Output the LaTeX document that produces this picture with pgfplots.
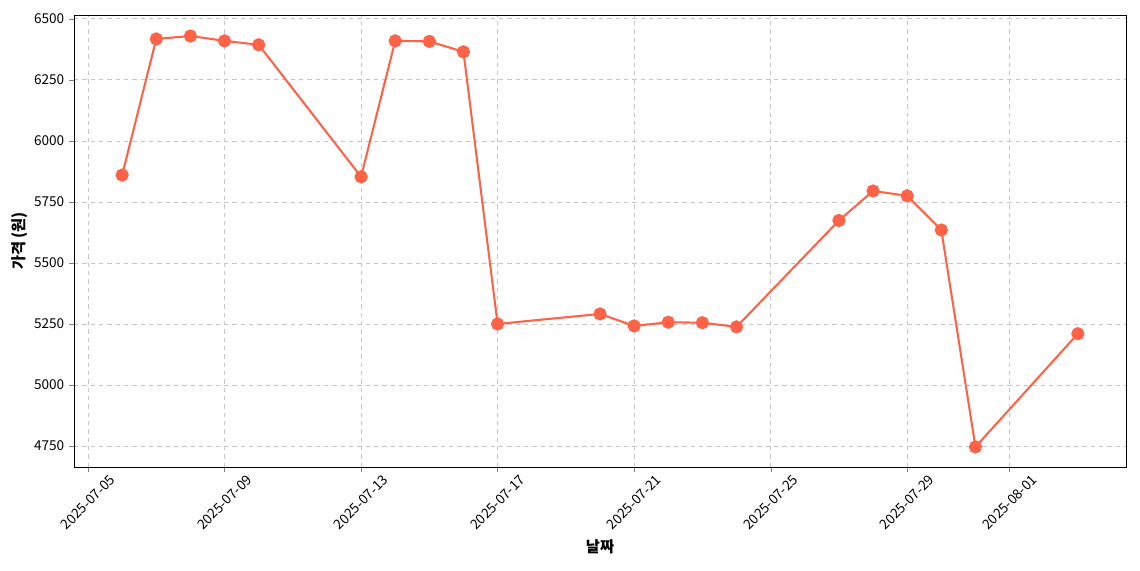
\documentclass[border=0pt]{standalone}
\usepackage{pgfplots}
\pgfplotsset{compat=1.18}
\usepackage{fontspec}
\setmainfont{Noto Sans CJK KR}
\definecolor{tomato}{HTML}{FF6347}
\begin{document}
\begin{tikzpicture}
\path[use as bounding box] (-53.3pt,-74.2pt) rectangle (767.5pt,336.2pt);
\begin{axis}[
  at={(0,0)}, anchor=south west,
  scale only axis, width=757.4pt, height=325.4pt,
  xmin=4.59, xmax=35.41, ymin=4664, ymax=6516,
  xtick={5,9,13,17,21,25,29,32},
  xticklabels={2025-07-05,2025-07-09,2025-07-13,2025-07-17,2025-07-21,2025-07-25,2025-07-29,2025-08-01},
  x tick label style={yshift=-22pt, rotate=45, anchor=center, font=\fontsize{9.8}{11}\selectfont, inner sep=1pt},
  ytick={4750,5000,5250,5500,5750,6000,6250,6500},
  y tick label style={font=\fontsize{9.8}{11}\selectfont},
  /pgf/number format/assume math mode=true,
  /pgf/number format/set thousands separator={},
  scaled y ticks=false,
  tick align=outside, tick pos=left,
  major tick length=3.5pt,
  grid=major,
  major grid style={dashed, gray!45, line width=0.6pt},
  axis line style={line width=0.6pt},
  xlabel={\bfseries 날짜}, ylabel={\bfseries 가격 (원)},
  label style={font=\fontsize{11}{13}\selectfont},
  xlabel style={at={(axis description cs:0.5,0)}, anchor=north, yshift=-49pt},
  ylabel style={yshift=-2pt},
]
\addplot[color=tomato, line width=1.5pt, mark=*, mark size=4pt, mark options={fill=tomato, draw=tomato}] coordinates {
(6,5860) (7,6418) (8,6430) (9,6410) (10,6394)
(13,5853) (14,6410) (15,6408) (16,6365) (17,5250)
(20,5291) (21,5242) (22,5257) (23,5255) (24,5238)
(27,5674) (28,5795) (29,5775) (30,5635) (31,4746)
(34,5210)
};
\end{axis}
\end{tikzpicture}
\end{document}
